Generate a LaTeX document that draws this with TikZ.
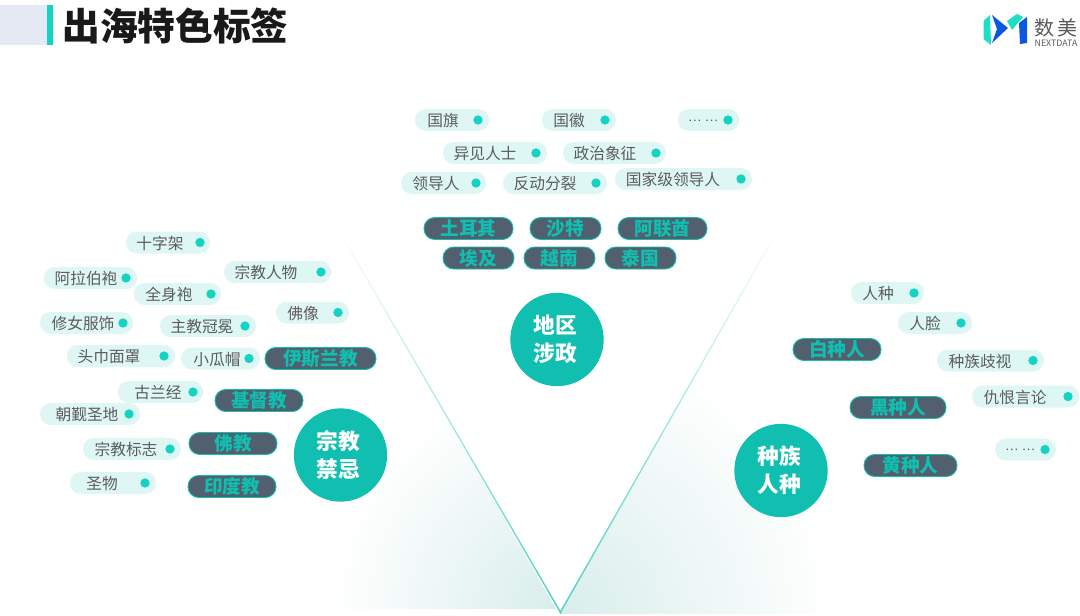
\documentclass[tikz,border=0pt]{standalone}
\usepackage{fontspec}
\setmainfont{Noto Sans CJK SC}
\usetikzlibrary{fadings}
\definecolor{tealmain}{HTML}{10BFAF}
\definecolor{tealdot}{HTML}{14D3C0}
\definecolor{tealsoft}{HTML}{DFF7F4}
\definecolor{tealshade}{HTML}{D8EEEB}
\definecolor{slatepill}{HTML}{525F6E}
\definecolor{greytext}{HTML}{5C5C5C}
\definecolor{headerpale}{HTML}{E4E9F3}
\definecolor{logoblue}{HTML}{0B57E0}
\definecolor{logocyan}{HTML}{1FDDC6}
\tikzset{softtag/.style={fill=tealsoft,rounded corners=8pt,minimum height=16.5pt,inner sep=0pt},
softtext/.style={text=greytext,font=\fontsize{11.8}{14}\selectfont,inner sep=0pt,yshift=-.6pt},
tagdot/.style={circle,fill=tealdot,minimum size=7pt,inner sep=0pt},
darktag/.style={fill=slatepill,draw=tealmain,line width=.7pt,rounded corners=8pt,minimum height=16.5pt,inner sep=0pt,text=tealmain,font=\fontsize{14}{16}\selectfont\bfseries},
topic/.style={circle,fill=tealmain,minimum size=70pt,inner sep=0pt},
topictext/.style={inner sep=0pt,align=center,text=white,font=\fontsize{16.3}{21}\selectfont\bfseries}}
% name, left, right, y, text x, dot x, text
\newcommand{\softpill}[7]{%
\pgfmathsetmacro{\pillc}{(#2+#3)/2}\pgfmathsetmacro{\pillw}{(#3-#2)*.75}
\node[softtag,minimum width=\pillw pt] (#1) at (\pillc,#4) {};
\node[softtext] (#1text) at (#5,#4) {#7};
\node[tagdot] (#1dot) at (#6,#4) {};}
% name, left, right, y, text
\newcommand{\darkpill}[5]{%
\pgfmathsetmacro{\pillc}{(#2+#3)/2}\pgfmathsetmacro{\pillw}{(#3-#2)*.75}
\node[darktag,minimum width=\pillw pt] (#1) at (\pillc,#4) {#5};}
\newcommand{\moredots}{{\fontsize{9}{10}\selectfont…\hspace{3pt}…}}

\begin{document}
\begin{tikzpicture}[x=.75pt,y=-.75pt]
\useasboundingbox (0,0) rectangle (1080,615);
% shaded V
\begin{scope}
\clip (556,609) -- (250,609) -- (250,300) -- (379,300) -- cycle;
\shade[inner color=tealshade,outer color=white] (557,609) circle (225);
\end{scope}
\begin{scope}
\clip (560,614) -- (880,614) -- (880,300) -- (738,300) -- cycle;
\shade[inner color=tealshade,outer color=white] (560,614) circle (272);
\end{scope}
\fill[tealmain!75,path fading=north] (560.6,614) -- (335,225) -- (336.4,225) -- (561.4,612.5) -- cycle;
\fill[tealmain!75,path fading=north] (560.2,614) -- (783,222) -- (781.6,222) -- (559.4,612.5) -- cycle;
% header
\fill[headerpale] (0,5) rectangle (47,45);
\fill[tealdot] (47,5) rectangle (53,45);
\node[inner sep=0pt,anchor=west,text=black!90,font=\fontsize{28.3}{30}\selectfont\bfseries] (headline) at (62,26) {出海特色标签};
% logo
\fill[logocyan] (983.5,21) -- (990,15) -- (991,45) -- (983.5,39) -- cycle;
\fill[logoblue] (992,15) -- (1008,28) -- (992,43) -- (997,29) -- cycle;
\fill[logocyan] (1007,21) -- (1017,14) -- (1023,17) -- (1012,30) -- cycle;
\fill[logoblue] (1019,23) -- (1027,17) -- (1027,43) -- (1020,44) -- cycle;
\node[inner sep=0pt,text=black!65,font=\fontsize{15}{16}\selectfont] (logoname) at (1056,28) {数\,美};
\node[inner sep=0pt,text=black!65,font=\fontsize{6.6}{7}\selectfont] (logosub) at (1056,43) {NEXTDATA};
% politics
\node[topic] (politics) at (557,339.5) {};
\node[topictext] (politicstext) at (555,339.5) {地区\\涉政};
\softpill{flag}{415}{489}{120}{443}{478}{国旗}
\softpill{emblem}{542}{616}{120}{569}{605}{国徽}
\softpill{moretop}{678}{739}{120}{703}{728}{\moredots}
\softpill{dissent}{443}{547}{153}{485}{536}{异见人士}
\softpill{symbol}{563}{666}{153}{605}{656}{政治象征}
\softpill{leader}{401}{486}{183}{436}{476}{领导人}
\softpill{split}{503}{607}{183}{545}{596}{反动分裂}
\softpill{stateleader}{615}{752}{179}{673}{741}{国家级领导人}
\darkpill{turkey}{424}{513}{228.5}{土耳其}
\darkpill{saudi}{530}{601}{228.5}{沙特}
\darkpill{uae}{618}{707}{228.5}{阿联酋}
\darkpill{egypt}{443}{514}{258}{埃及}
\darkpill{vietnam}{524}{595}{258}{越南}
\darkpill{thailand}{605}{676}{258}{泰国}
% religion
\node[topic] (religion) at (340.5,455) {};
\node[topictext] (religiontext) at (338,455) {宗教\\禁忌};
\softpill{cross}{126}{210}{242.5}{160}{200}{十字架}
\softpill{arabrobe}{44}{137}{278}{86}{126}{阿拉伯袍}
\softpill{figure}{224}{331}{272}{266}{321}{宗教人物}
\softpill{fullrobe}{134}{221}{294}{169}{211}{全身袍}
\softpill{buddha}{276}{349}{312.5}{303}{338}{佛像}
\softpill{nun}{40}{133}{323}{83}{123}{修女服饰}
\softpill{mitre}{160}{256}{326}{202}{245}{主教冠冕}
\softpill{veil}{67}{175}{356}{109}{164}{头巾面罩}
\softpill{kufi}{181}{260}{358.5}{217}{249}{小瓜帽}
\softpill{koran}{118}{203}{392}{158}{193}{古兰经}
\softpill{pilgrim}{40}{140}{414}{87}{129}{朝觐圣地}
\softpill{badge}{83}{181}{449}{126}{170}{宗教标志}
\softpill{relic}{70}{156}{483}{102}{145}{圣物}
\darkpill{islam}{265}{376}{358.5}{伊斯兰教}
\darkpill{christian}{215}{303}{400.5}{基督教}
\darkpill{buddhism}{189}{277}{443.5}{佛教}
\darkpill{hindu}{188}{276}{486.5}{印度教}
% race
\node[topic] (race) at (781,470.5) {};
\node[topictext] (racetext) at (779.5,470.5) {种族\\人种};
\softpill{ethnic}{851}{924}{293}{878}{914}{人种}
\softpill{face}{898}{972}{323}{925}{961}{人脸}
\softpill{bias}{937}{1044}{360.5}{980}{1033}{种族歧视}
\softpill{hate}{972}{1079}{396.5}{1015}{1068}{仇恨言论}
\softpill{moreright}{995}{1056}{449.5}{1020}{1045}{\moredots}
\darkpill{white}{793}{881}{349.5}{白种人}
\darkpill{black}{850}{946}{407.5}{黑种人}
\darkpill{yellow}{864}{957}{465.5}{黄种人}
\end{tikzpicture}
\end{document}
